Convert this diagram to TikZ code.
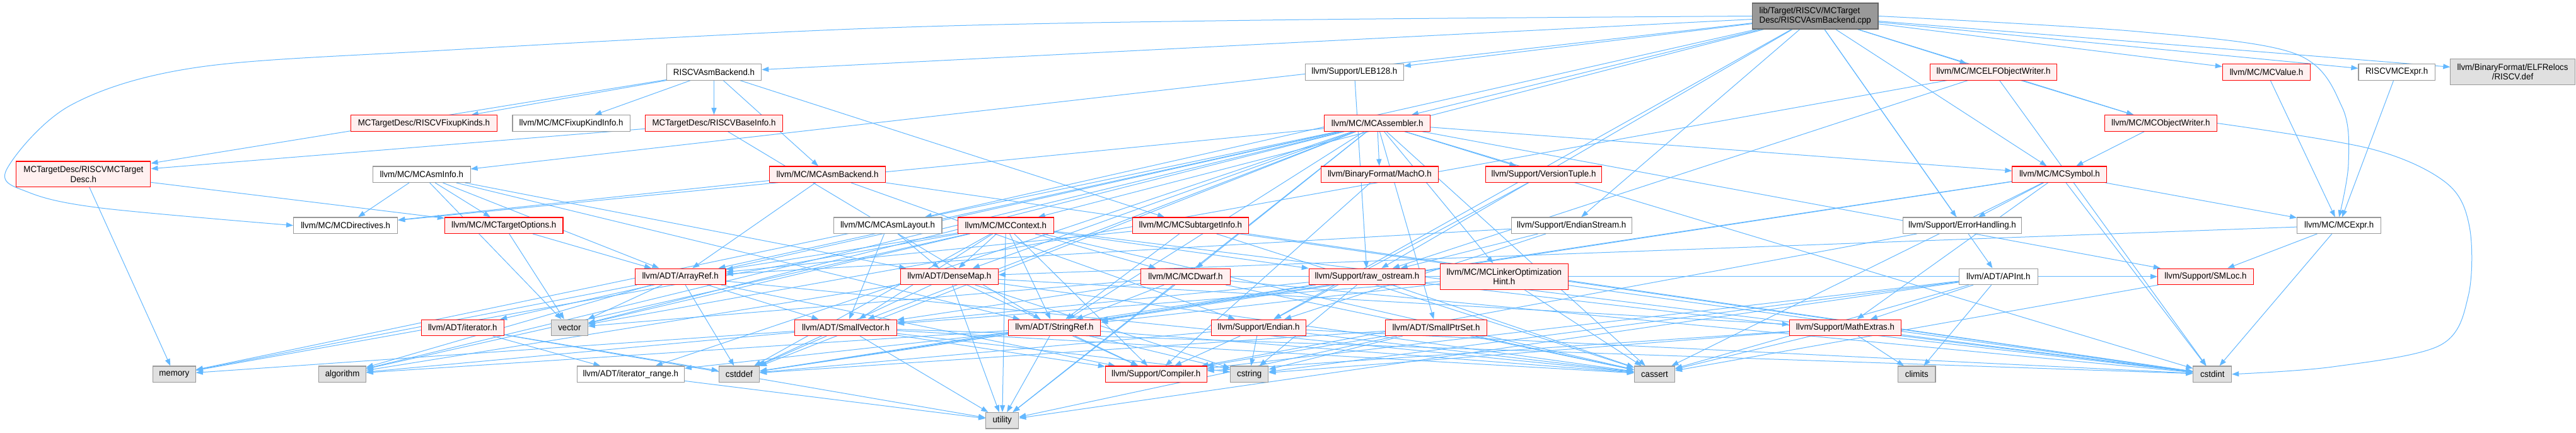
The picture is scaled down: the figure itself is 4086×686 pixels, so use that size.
\documentclass[tikz,border=0pt]{standalone}
\usepackage{fontspec}
\setmainfont{Liberation Sans}[FakeStretch=0.95]
\usetikzlibrary{arrows.meta,backgrounds}
\definecolor{edgeblue}{HTML}{63B8FF}
\definecolor{redfill}{HTML}{FFF0F0}
\definecolor{sysfill}{HTML}{E0E0E0}
\definecolor{sysdraw}{HTML}{999999}
\definecolor{rootfill}{HTML}{999999}
\definecolor{rootdraw}{HTML}{666666}
\tikzset{
 box/.style={rectangle, inner sep=0pt, line width=1.1pt, font=\fontsize{14}{15.5}\selectfont, align=center, minimum height=25.5pt},
 redbox/.style={box, draw=red, fill=redfill},
 whitebox/.style={box, draw=sysdraw, fill=white},
 sysbox/.style={box, draw=sysdraw, fill=sysfill},
 rootbox/.style={box, draw=rootdraw, fill=rootfill, align=left},
 edge/.style={draw=edgeblue, line width=1pt, -{Triangle[length=11pt,width=8pt]}},
}
\newcommand\nd[5]{\node[#1, minimum width=#4pt] (#2) at (#3) {#5};}
\begin{document}
\begin{tikzpicture}[x=1pt,y=-1pt]
\useasboundingbox (0,0) rectangle (4086,686);
% rank 1
\nd{rootbox,minimum height=41pt}{root}{2879.2,25.5}{199.5}{lib/Target/RISCV/MCTarget\\Desc/RISCVAsmBackend.cpp}
% rank 2
\nd{whitebox}{RAB}{1132.5,114.3}{150.5}{RISCVAsmBackend.h}
\nd{whitebox}{LEB}{2148.3,114.3}{155.8}{llvm/Support/LEB128.h}
\nd{redbox}{ELF}{3162,114.3}{200.9}{llvm/MC/MCELFObjectWriter.h}
\nd{redbox}{VAL}{3595,114.3}{139.3}{llvm/MC/MCValue.h}
\nd{whitebox}{RME}{3801.6,114.3}{121.4}{RISCVMCExpr.h}
\nd{sysbox,minimum height=41pt}{DEF}{3985.5,114.2}{197.3}{llvm/BinaryFormat/ELFRelocs\\/RISCV.def}
% rank 3
\nd{redbox}{FK}{672.4,195.5}{231.3}{MCTargetDesc/RISCVFixupKinds.h}
\nd{whitebox}{FKI}{906.1,195.5}{186.2}{llvm/MC/MCFixupKindInfo.h}
\nd{redbox}{BI}{1132.5,195.5}{218.3}{MCTargetDesc/RISCVBaseInfo.h}
\nd{redbox}{ASM}{2184.6,195.5}{167.9}{llvm/MC/MCAssembler.h}
\nd{redbox}{OW}{3427.3,195.5}{178}{llvm/MC/MCObjectWriter.h}
% rank 4
\nd{redbox,minimum height=40.7pt}{MTD}{132.4,276.3}{213}{MCTargetDesc/RISCVMCTarget\\Desc.h}
\nd{whitebox}{AI}{668.8,276.7}{154.5}{llvm/MC/MCAsmInfo.h}
\nd{redbox}{AB}{1312.6,276.7}{184}{llvm/MC/MCAsmBackend.h}
\nd{redbox}{MachO}{2188.4,276.7}{185.3}{llvm/BinaryFormat/MachO.h}
\nd{redbox}{VT}{2448.5,276.7}{184.8}{llvm/Support/VersionTuple.h}
\nd{redbox}{SYM}{3266.9,276.7}{150}{llvm/MC/MCSymbol.h}
% rank 5
\nd{whitebox}{DIR}{548.2,357.7}{165.2}{llvm/MC/MCDirectives.h}
\nd{redbox}{TO}{799.2,357.7}{187.5}{llvm/MC/MCTargetOptions.h}
\nd{whitebox}{LAY}{1408,357.7}{171.9}{llvm/MC/MCAsmLayout.h}
\nd{redbox}{CTX}{1595.3,357.7}{151.8}{llvm/MC/MCContext.h}
\nd{redbox}{STI}{1888.3,357.7}{184.3}{llvm/MC/MCSubtargetInfo.h}
\nd{whitebox}{ES}{2492.7,357.7}{191.1}{llvm/Support/EndianStream.h}
\nd{whitebox}{EH}{3112.4,357.7}{188.4}{llvm/Support/ErrorHandling.h}
\nd{whitebox}{EXPR}{3710.1,357.7}{133}{llvm/MC/MCExpr.h}
% rank 6
\nd{redbox}{AR}{1079.1,438.8}{143.8}{llvm/ADT/ArrayRef.h}
\nd{redbox}{DM}{1505.8,438.8}{154.9}{llvm/ADT/DenseMap.h}
\nd{redbox}{DW}{1880.5,438.8}{141.9}{llvm/MC/MCDwarf.h}
\nd{redbox}{RO}{2168.4,438.8}{184.3}{llvm/Support/raw\_ostream.h}
\nd{redbox,minimum height=41pt}{LOH}{2385.8,438.8}{203.1}{llvm/MC/MCLinkerOptimization\\Hint.h}
\nd{whitebox}{APInt}{3169.8,438.8}{124.6}{llvm/ADT/APInt.h}
\nd{redbox}{SMLoc}{3498.5,438.8}{151.8}{llvm/Support/SMLoc.h}
% rank 7
\nd{redbox}{IT}{733.7,519.8}{130.9}{llvm/ADT/iterator.h}
\nd{sysbox}{vector}{903.4,519.8}{57.6}{vector}
\nd{redbox}{SV}{1341.6,519.8}{161.7}{llvm/ADT/SmallVector.h}
\nd{redbox}{SR}{1672.5,519.8}{146.4}{llvm/ADT/StringRef.h}
\nd{redbox}{END}{1996.4,519.8}{149.7}{llvm/Support/Endian.h}
\nd{redbox}{SPS}{2278,519.8}{161.6}{llvm/ADT/SmallPtrSet.h}
\nd{redbox}{ME}{2926.9,519.8}{177.2}{llvm/Support/MathExtras.h}
% rank 8
\nd{sysbox}{memory}{276.3,593.7}{67.9}{memory}
\nd{sysbox}{algorithm}{543.1,593.7}{74.6}{algorithm}
\nd{whitebox}{IR}{1000.3,593.7}{170.1}{llvm/ADT/iterator\_range.h}
\nd{sysbox}{cstddef}{1172.4,593.7}{64.3}{cstddef}
\nd{redbox}{CMP}{1833.7,593.7}{160.7}{llvm/Support/Compiler.h}
\nd{sysbox}{cstring}{1981.7,593.7}{60.3}{cstring}
\nd{sysbox}{cassert}{2624.4,593.7}{64.3}{cassert}
\nd{sysbox}{climits}{3040.3,593.7}{59.4}{climits}
\nd{sysbox}{cstdint}{3509.2,593.7}{60.8}{cstdint}
% rank 9
\nd{sysbox}{utility}{1589.7,667.2}{52.2}{utility}
% waypoints
\coordinate (l1) at (2000,32);
\coordinate (l2) at (1380,45);
\coordinate (l3) at (700,80);
\coordinate (l4) at (312,107);
\coordinate (l5) at (112,167);
\coordinate (l6) at (10,270);
\coordinate (l7) at (45,305);
\coordinate (l8) at (160,330);
\coordinate (r1) at (3760,236);
\coordinate (r2) at (3880,290);
\coordinate (r3) at (3917,360);
\coordinate (r4) at (3915,470);
\coordinate (r5) at (3870,548);
\coordinate (r6) at (3700,582);
\coordinate (e1) at (3390,50);
\coordinate (e2) at (3640,85);
\coordinate (e3) at (3715,170);
\coordinate (e4) at (3725,260);
\begin{scope}[on background layer]
\fill[white] (0,0) rectangle (4086,686);
\foreach \s/\t in {
root/RAB, root/LEB, root/ELF, root/VAL, root/RME, root/DEF, root/ASM, root/OW, root/AI, root/SYM, root/LAY, root/CTX, root/ES, root/EH, root/RO, root/APInt, root/END,
RAB/MTD, RAB/FK, RAB/FKI, RAB/BI, RAB/AB, RAB/STI,
MTD/TO, MTD/memory,
BI/MTD, BI/SR,
AI/DIR, AI/TO, AI/AR, AI/DM, AI/SR, AI/vector,
AB/AR, AB/DIR, AB/END, AB/cstdint,
ASM/AR, ASM/DM, ASM/SPS, ASM/SV, ASM/SR, ASM/IT, ASM/IR, ASM/MachO, ASM/DIR, ASM/DW, ASM/LOH, ASM/SYM, ASM/SMLoc, ASM/VT, ASM/algorithm, ASM/cassert, ASM/cstddef, ASM/cstdint, ASM/memory, ASM/utility, ASM/vector,
MachO/CMP, VT/END,
ELF/OW, ELF/RO, ELF/cstdint, ELF/vector,
OW/SYM, VAL/EXPR, RME/EXPR,
SYM/SR, SYM/EXPR, SYM/EH, SYM/ME, SYM/cassert, SYM/cstddef, SYM/cstdint,
LAY/DM, LAY/SV,
CTX/DM, CTX/SV, CTX/SR, CTX/DW, CTX/CMP, CTX/RO, CTX/algorithm, CTX/cassert, CTX/cstddef, CTX/cstdint, CTX/memory, CTX/utility, CTX/vector, CTX/AR,
STI/AR, STI/SR, STI/cassert, STI/cstdint,
ES/AR, ES/END, ES/RO,
EH/CMP,
EXPR/DM, EXPR/SMLoc, EXPR/cstdint,
TO/AR, TO/vector,
AR/SV, AR/CMP, AR/algorithm, AR/cassert, AR/cstddef, AR/memory, AR/vector,
DM/CMP, DM/ME, DM/algorithm, DM/cassert, DM/cstddef, DM/cstring, DM/utility,
DW/SV, DW/SR, DW/SMLoc, DW/cassert, DW/cstdint, DW/utility, DW/vector,
RO/SV, RO/SR, RO/cassert, RO/cstddef, RO/cstdint, RO/cstring,
LOH/SV, LOH/SR, LOH/cassert, LOH/cstdint,
APInt/CMP, APInt/ME, APInt/cassert, APInt/climits, APInt/cstring, APInt/utility,
SMLoc/cassert,
IT/IR, IT/cstddef, IT/utility,
SV/CMP, SV/algorithm, SV/cassert, SV/cstddef, SV/cstdint, SV/cstring, SV/memory, SV/utility,
SR/IR, SR/CMP, SR/algorithm, SR/cassert, SR/cstddef, SR/cstring, SR/utility,
END/CMP, END/cassert, END/cstddef, END/cstdint, END/cstring,
SPS/CMP, SPS/cassert, SPS/cstddef, SPS/cstring, SPS/utility,
ME/CMP, ME/cassert, ME/climits, ME/cstdint, ME/cstring,
IR/utility, LEB/RO}
  \draw[edge] (\s) -- (\t);
\draw[edge] plot[smooth, tension=0.55] coordinates {(root.west) (l1) (l2) (l3) (l4) (l5) (l6) (l7) (l8) (DIR.west)};
\draw[edge] plot[smooth, tension=0.55] coordinates {(OW.east) (r1) (r2) (r3) (r4) (r5) (r6) (cstdint.east)};
\draw[edge] plot[smooth, tension=0.55] coordinates {(root.east) (e1) (e2) (e3) (e4) (EXPR.north)};
\end{scope}
\end{tikzpicture}
\end{document}
